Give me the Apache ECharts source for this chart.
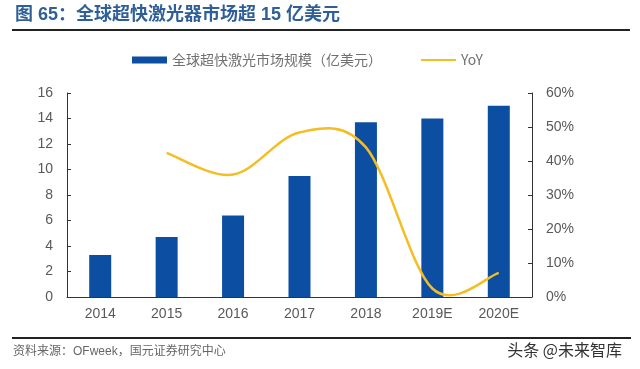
<!DOCTYPE html>
<html>
<head>
<meta charset="utf-8">
<script src="https://cdn.jsdelivr.net/npm/echarts@6/dist/echarts.min.js"></script>
<style>
html,body{margin:0;padding:0;background:#fff;}
#c{width:640px;height:369px;}
</style>
</head>
<body>
<div id="c"></div>
<script>
const categories = ['2014','2015','2016','2017','2018','2019E','2020E'];
const marketSize = [3.3, 4.7, 6.4, 9.5, 13.7, 14.0, 15.0];
const yoy = [null, 42.4, 36.0, 48.4, 44.0, 2.5, 7.1];
const leftTicks = {min:0, max:16, interval:2};
const rightTicks = {min:0, max:60, interval:10};
const seriesNames = ['全球超快激光市场规模（亿美元）', 'YoY'];
const titleText = '图 65：全球超快激光器市场超 15 亿美元';
const sourceText = '资料来源：OFweek，国元证券研究中心';
const watermark = '头条 @未来智库';

const yoyPoints = yoy.map((v, i) => [i, v]).filter(p => p[1] != null);
const YOY_COLOR = '#f4bd22';

// Excel-style smoothed line drawn through the library's coordinate system
function renderYoy(params, api) {
  if (params.dataIndex !== 0) return null;
  const pts = yoyPoints.map(p => api.coord(p));
  const n = pts.length;
  let d = 'M' + pts[0][0] + ',' + pts[0][1];
  for (let i = 0; i < n - 1; i++) {
    const p0 = pts[Math.max(i - 1, 0)], p1 = pts[i], p2 = pts[i + 1], p3 = pts[Math.min(i + 2, n - 1)];
    const c1x = p1[0] + (p2[0] - p0[0]) / 6, c1y = p1[1] + (p2[1] - p0[1]) / 6;
    const c2x = p2[0] - (p3[0] - p1[0]) / 6, c2y = p2[1] - (p3[1] - p1[1]) / 6;
    d += ' C' + c1x + ',' + c1y + ' ' + c2x + ',' + c2y + ' ' + p2[0] + ',' + p2[1];
  }
  return {type:'path', z2:10, shape:{pathData:d}, style:{fill:'none', stroke:YOY_COLOR, lineWidth:2.5}};
}

const chart = echarts.init(document.getElementById('c'), null, {renderer:'canvas'});
const labelFont = {color:'#595959', fontSize:14, fontFamily:'Liberation Sans, Arial, sans-serif'};
chart.setOption({
  animation:false,
  backgroundColor:'#fff',
  title:[
    {text:titleText, left:10, top:1, textStyle:{color:'#2f5f98', fontSize:18, fontWeight:'bold', fontFamily:'Liberation Sans, "Noto Sans CJK SC", sans-serif'}},
    {text:sourceText, left:8, top:341, textStyle:{color:'#666', fontSize:12, fontWeight:'normal', fontFamily:'Liberation Sans, "Noto Sans CJK SC", sans-serif'}},
    {text:watermark, right:13, top:337, textStyle:{color:'#333', fontSize:16, fontWeight:'normal', fontFamily:'"Noto Sans CJK SC", sans-serif'}}
  ],
  graphic:[
    {type:'line', shape:{x1:12, y1:30, x2:630, y2:30}, style:{stroke:'#222', lineWidth:2}},
    {type:'line', shape:{x1:12, y1:338, x2:631, y2:338}, style:{stroke:'#222', lineWidth:2}}
  ],
  legend:{
    left:127, top:48, itemWidth:35, itemHeight:7, itemGap:38,
    textStyle:{color:'#707070', fontSize:14, fontFamily:'"Noto Sans CJK SC", sans-serif'},
    data:[{name:seriesNames[0], icon:'rect'}, {name:seriesNames[1], itemStyle:{opacity:0}}]
  },
  grid:{left:67, right:108, top:93, bottom:72},
  xAxis:{
    type:'category', data:categories,
    axisLine:{lineStyle:{color:'#333', width:1}},
    axisTick:{inside:true, length:4, lineStyle:{color:'#333'}},
    axisLabel:Object.assign({margin:10}, labelFont)
  },
  yAxis:[
    {type:'value', min:leftTicks.min, max:leftTicks.max, interval:leftTicks.interval,
     axisLine:{show:true, lineStyle:{color:'#333'}},
     axisTick:{show:true, inside:true, length:4, lineStyle:{color:'#333'}},
     splitLine:{show:false},
     axisLabel:Object.assign({margin:14}, labelFont)},
    {type:'value', min:rightTicks.min, max:rightTicks.max, interval:rightTicks.interval,
     axisLine:{show:true, lineStyle:{color:'#333'}},
     axisTick:{show:true, inside:true, length:4, lineStyle:{color:'#333'}},
     splitLine:{show:false},
     axisLabel:Object.assign({margin:14, formatter:'{value}%'}, labelFont)}
  ],
  series:[
    {name:seriesNames[0], type:'bar', data:marketSize, barWidth:22, z:2, itemStyle:{color:'#0b4ea2'}},
    {name:seriesNames[1], type:'line', yAxisIndex:1, data:[], symbol:'none',
     lineStyle:{color:YOY_COLOR, width:2.5}, itemStyle:{color:YOY_COLOR}},
    {name:'yoyCurve', type:'custom', yAxisIndex:1, data:yoyPoints, renderItem:renderYoy,
     clip:false, silent:true, z:10, encode:{x:0, y:1}}
  ]
});
</script>
</body>
</html>
